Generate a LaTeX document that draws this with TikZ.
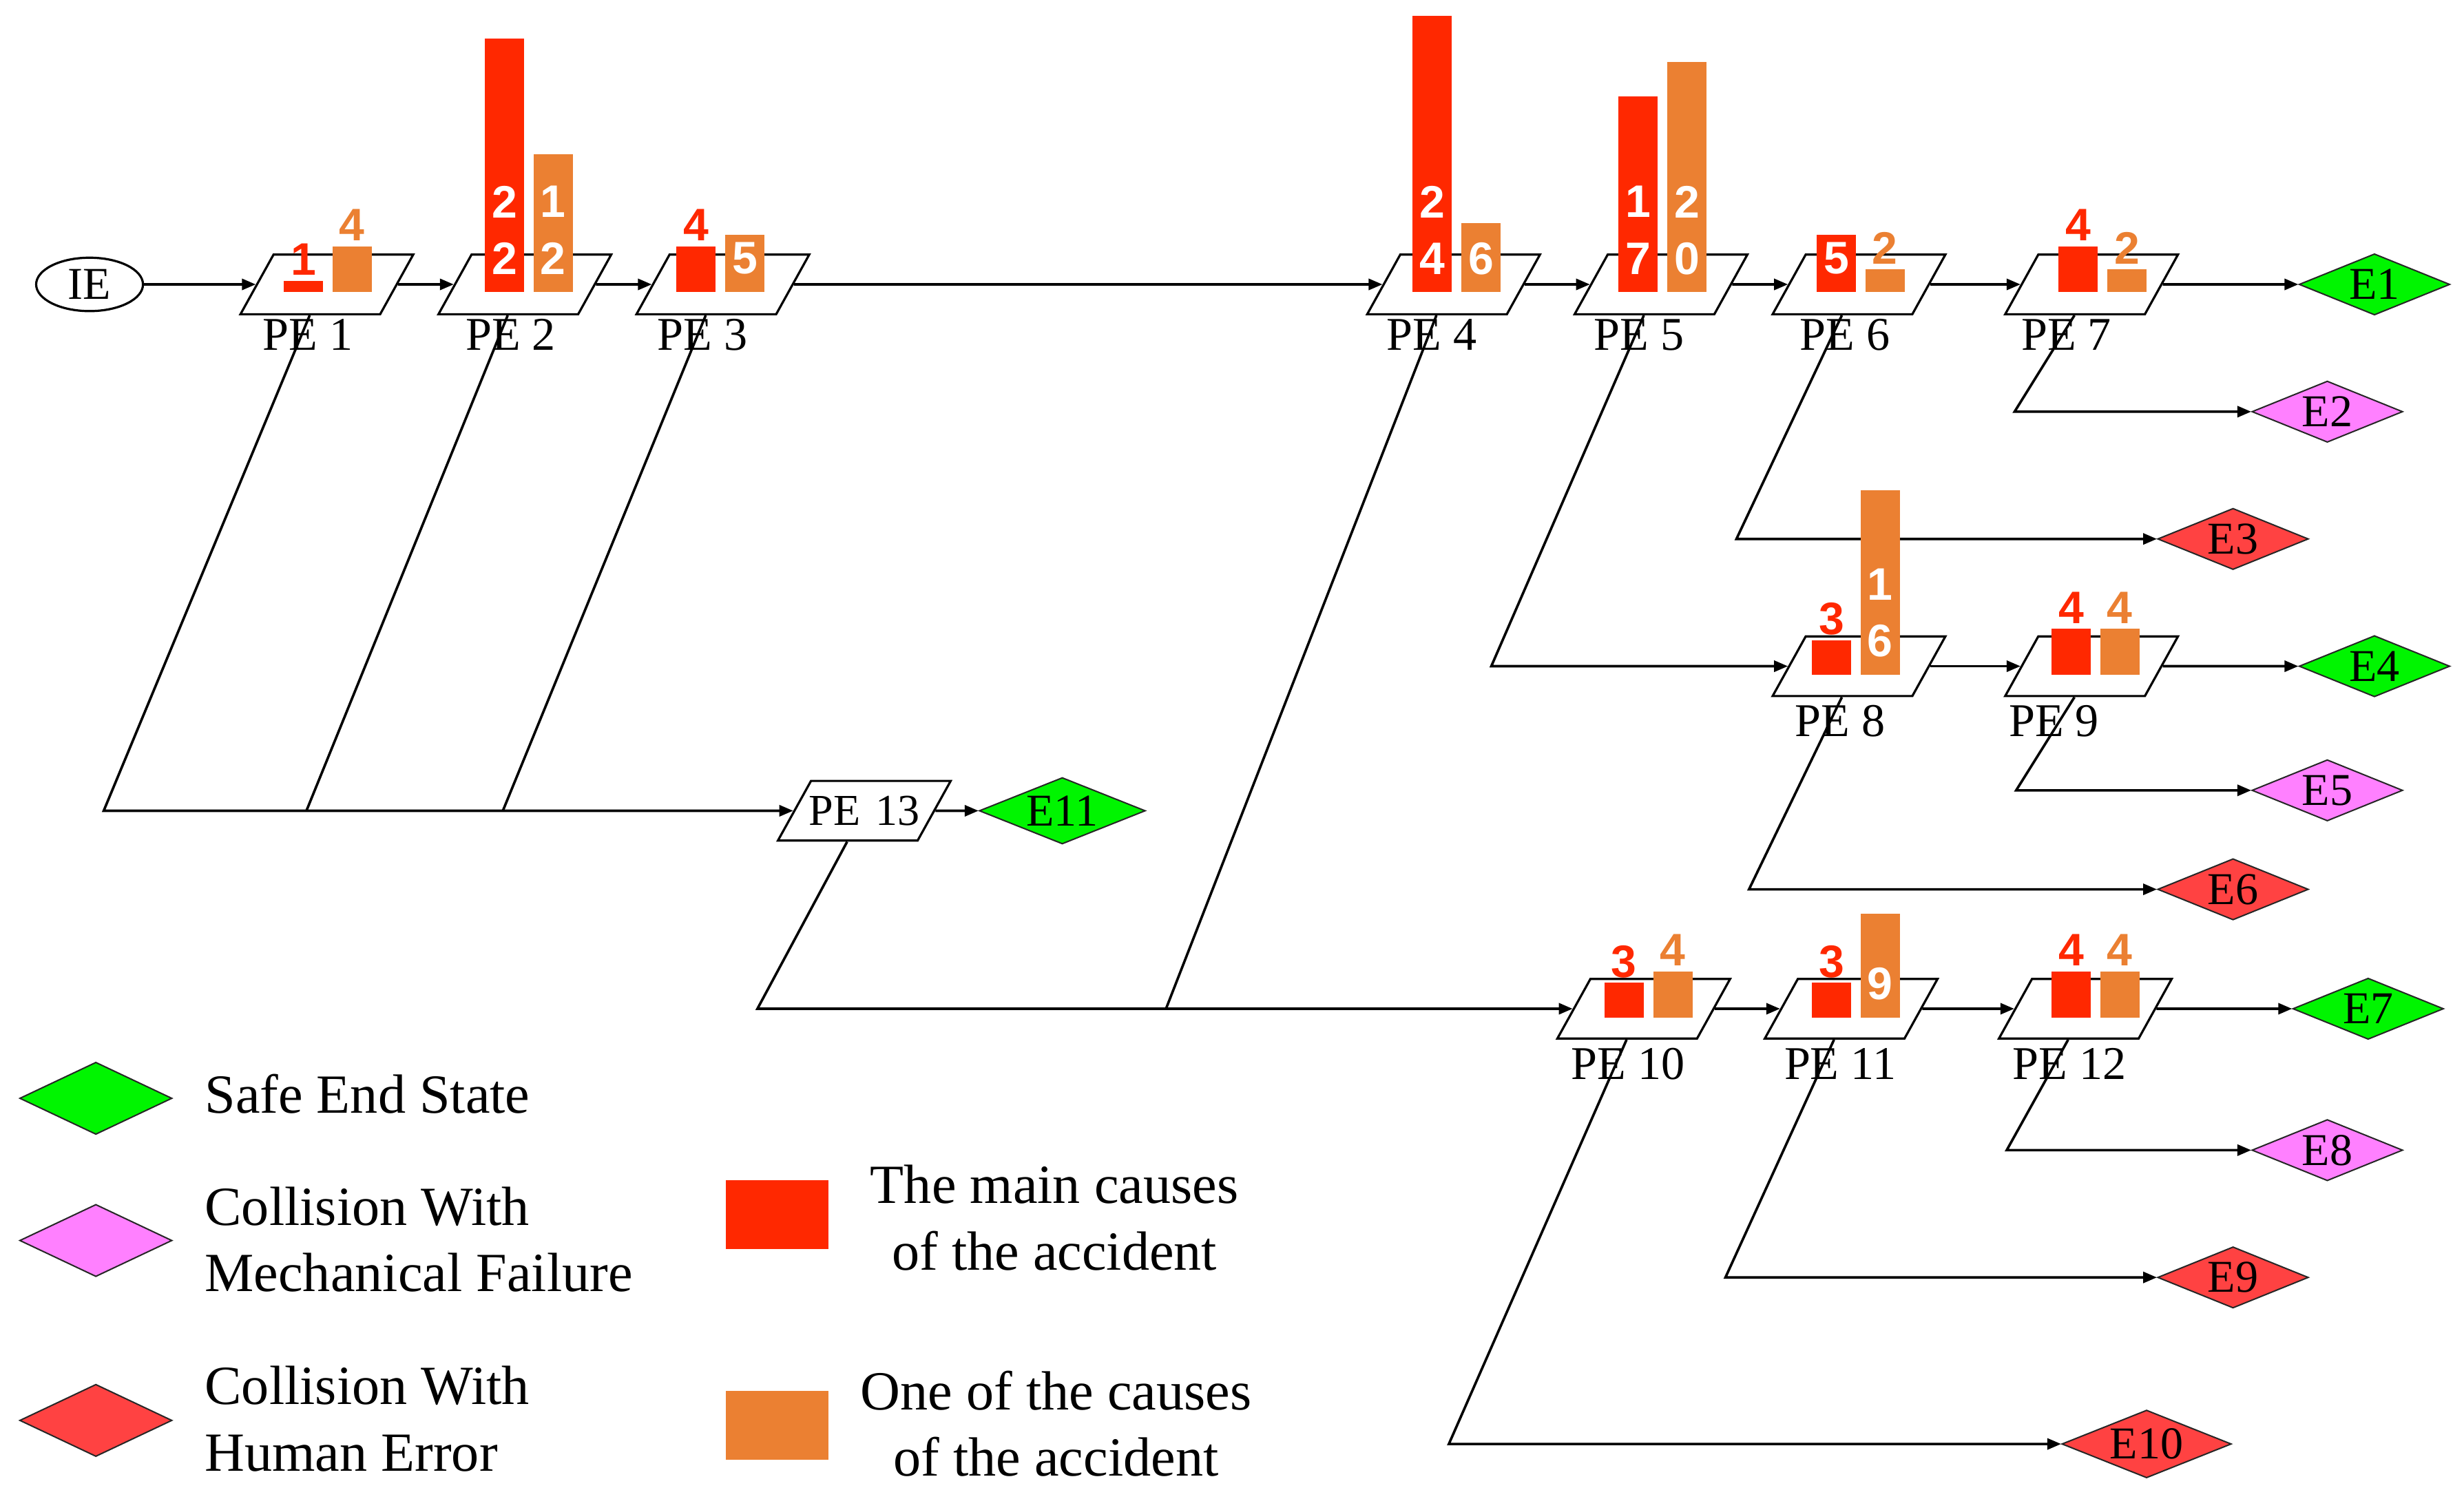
\documentclass[tikz,border=0pt]{standalone}
\usepackage{fontspec}
\setmainfont{Liberation Serif}
\newfontfamily\numfont{Liberation Sans}
\usetikzlibrary{shapes.geometric,arrows.meta}
\definecolor{barred}{RGB}{255,40,0}
\definecolor{barorange}{RGB}{235,128,50}
\definecolor{safegreen}{RGB}{0,245,0}
\definecolor{mechpink}{RGB}{255,128,255}
\definecolor{humred}{RGB}{255,66,66}
\newcommand\pebar[4]{\fill[#4] (#1,#2) rectangle ++(25,{-7.33*#3});}
\begin{document}
\begin{tikzpicture}[x=0.02cm,y=-0.02cm,
  pebox/.style={trapezium, trapezium left angle=61, trapezium right angle=119,
    draw, line width=0.8pt, inner sep=0pt, text width=1.357cm,
    text height=0.565cm, text depth=0.195cm, align=center,
    font=\fontsize{16}{16}\selectfont},
  pelabel/.style={inner sep=0pt, font=\fontsize{17}{17}\selectfont},
  ienode/.style={ellipse, draw, line width=0.8pt, minimum width=1.36cm,
    minimum height=0.68cm, inner sep=0pt, font=\fontsize{16.5}{16.5}\selectfont},
  endstate/.style={diamond, draw=black!85, line width=0.5pt, aspect=2.5,
    minimum width=1.92cm, minimum height=0.78cm, inner sep=1pt,
    font=\fontsize{16.5}{16.5}\selectfont},
  legdiamond/.style={diamond, draw=black!85, line width=0.5pt,
    minimum width=1.94cm, minimum height=0.92cm, inner sep=0pt},
  legtext/.style={inner sep=0pt, font=\fontsize{20}{24}\selectfont},
  legsquare/.style={inner sep=0pt, minimum width=1.3cm, minimum height=0.88cm},
  dig/.style={inner sep=0pt, font=\numfont\bfseries\fontsize{16.5}{16.5}\selectfont},
  conn/.style={line width=0.9pt},
  arr/.style={conn, -{Triangle[length=5pt,width=4pt]}}
]
\fill[white] (0,0) rectangle (1568,954);
\useasboundingbox (0,0) rectangle (1568,954);

% initiating event and pivotal events
\node[ienode] (ie) at (57,181) {IE};
\node[pebox] (pe1) at (208,181) {};
\node[pebox] (pe2) at (334,181) {};
\node[pebox] (pe3) at (460,181) {};
\node[pebox] (pe4) at (925,181) {};
\node[pebox] (pe5) at (1057,181) {};
\node[pebox] (pe6) at (1183,181) {};
\node[pebox] (pe7) at (1331,181) {};
\node[pebox] (pe8) at (1183,424) {};
\node[pebox] (pe9) at (1331,424) {};
\node[pebox] (pe10) at (1046,642) {};
\node[pebox] (pe11) at (1178,642) {};
\node[pebox] (pe12) at (1327,642) {};
\node[pebox] (pe13) at (550,516) {\makebox[1.357cm][c]{PE 13}};

% labels
\node[pelabel] (t1) at (196,213) {PE 1};
\node[pelabel] (t2) at (325,213) {PE 2};
\node[pelabel] (t3) at (447,213) {PE 3};
\node[pelabel] (t4) at (911,213) {PE 4};
\node[pelabel] (t5) at (1043,213) {PE 5};
\node[pelabel] (t6) at (1174,213) {PE 6};
\node[pelabel] (t7) at (1315,213) {PE 7};
\node[pelabel] (t8) at (1171,459) {PE 8};
\node[pelabel] (t9) at (1307,459) {PE 9};
\node[pelabel] (t10) at (1036,677) {PE 10};
\node[pelabel] (t11) at (1171,677) {PE 11};
\node[pelabel] (t12) at (1317,677) {PE 12};

% end states
\node[endstate, fill=safegreen] (e1) at (1511,181) {E1};
\node[endstate, fill=mechpink] (e2) at (1481,262) {E2};
\node[endstate, fill=humred] (e3) at (1421,343) {E3};
\node[endstate, fill=safegreen] (e4) at (1511,424) {E4};
\node[endstate, fill=mechpink] (e5) at (1481,503) {E5};
\node[endstate, fill=humred] (e6) at (1421,566) {E6};
\node[endstate, fill=safegreen] (e7) at (1507,642) {E7};
\node[endstate, fill=mechpink] (e8) at (1481,732) {E8};
\node[endstate, fill=humred] (e9) at (1421,813) {E9};
\node[endstate, fill=humred] (e10) at (1366,919) {E10};
\node[endstate, fill=safegreen] (e11) at (676,516) {E11};

% corner points
\coordinate (k1) at (66,516);
\coordinate (k2) at (195,516);
\coordinate (k3) at (320,516);
\coordinate (k13) at (482,642);
\coordinate (k4) at (742,642);
\coordinate (k5) at (949,424);
\coordinate (k6) at (1105,343);
\coordinate (k7) at (1282,262);
\coordinate (k8) at (1113,566);
\coordinate (k9) at (1283,503);
\coordinate (k10) at (922,919);
\coordinate (k11) at (1098,813);
\coordinate (k12) at (1277,732);

% success-path connectors
\draw[arr] (ie) -- (pe1);
\draw[arr] (pe1) -- (pe2);
\draw[arr] (pe2) -- (pe3);
\draw[arr] (pe3) -- (pe4);
\draw[arr] (pe4) -- (pe5);
\draw[arr] (pe5) -- (pe6);
\draw[arr] (pe6) -- (pe7);
\draw[arr] (pe7) -- (e1);
\draw[arr] (pe8) -- (pe9);
\draw[arr] (pe9) -- (e4);
\draw[arr] (pe10) -- (pe11);
\draw[arr] (pe11) -- (pe12);
\draw[arr] (pe12) -- (e7);
\draw[arr] (pe13) -- (e11);

% failure-path connectors
\draw[arr] (pe1.bottom side) -- (k1) -- (pe13);
\draw[conn] (pe2.bottom side) -- (k2);
\draw[conn] (pe3.bottom side) -- (k3);
\draw[arr] (pe13.bottom side) -- (k13) -- (pe10);
\draw[conn] (pe4.bottom side) -- (k4);
\draw[arr] (pe5.bottom side) -- (k5) -- (pe8);
\draw[arr] (pe6.bottom side) -- (k6) -- (e3);
\draw[arr] (pe7.bottom side) -- (k7) -- (e2);
\draw[arr] (pe8.bottom side) -- (k8) -- (e6);
\draw[arr] (pe9.bottom side) -- (k9) -- (e5);
\draw[arr] (pe10.bottom side) -- (k10) -- (e10);
\draw[arr] (pe11.bottom side) -- (k11) -- (e9);
\draw[arr] (pe12.bottom side) -- (k12) -- (e8);

% bars, row 1
\pebar{180.5}{186}{1}{barred}   \pebar{211.5}{186}{4}{barorange}
\node[dig, text=barred] (n1r) at (193,165.2) {1};
\node[dig, text=barorange] (n1o) at (224,143.2) {4};
\pebar{308.5}{186}{22}{barred}  \pebar{339.5}{186}{12}{barorange}
\node[dig, text=white] (n2ra) at (321,128.5) {2};
\node[dig, text=white] (n2rb) at (321,164.5) {2};
\node[dig, text=white] (n2oa) at (352,128.5) {1};
\node[dig, text=white] (n2ob) at (352,164.5) {2};
\pebar{430.5}{186}{4}{barred}   \pebar{461.5}{186}{5}{barorange}
\node[dig, text=barred] (n3r) at (443,143.2) {4};
\node[dig, text=white] (n3o) at (474,164.5) {5};
\pebar{899}{186}{24}{barred}    \pebar{930}{186}{6}{barorange}
\node[dig, text=white] (n4ra) at (911.5,128.5) {2};
\node[dig, text=white] (n4rb) at (911.5,164.5) {4};
\node[dig, text=white] (n4o) at (942.5,164.5) {6};
\pebar{1030}{186}{17}{barred}   \pebar{1061}{186}{20}{barorange}
\node[dig, text=white] (n5ra) at (1042.5,128.5) {1};
\node[dig, text=white] (n5rb) at (1042.5,164.5) {7};
\node[dig, text=white] (n5oa) at (1073.5,128.5) {2};
\node[dig, text=white] (n5ob) at (1073.5,164.5) {0};
\pebar{1156}{186}{5}{barred}    \pebar{1187}{186}{2}{barorange}
\node[dig, text=white] (n6r) at (1168.5,164.5) {5};
\node[dig, text=barorange] (n6o) at (1199.5,157.8) {2};
\pebar{1310}{186}{4}{barred}    \pebar{1341}{186}{2}{barorange}
\node[dig, text=barred] (n7r) at (1322.5,143.2) {4};
\node[dig, text=barorange] (n7o) at (1353.5,157.8) {2};

% bars, row 2
\pebar{1153}{429.5}{3}{barred}   \pebar{1184}{429.5}{16}{barorange}
\node[dig, text=barred] (n8r) at (1165.5,394) {3};
\node[dig, text=white] (n8oa) at (1196.5,372) {1};
\node[dig, text=white] (n8ob) at (1196.5,408) {6};
\pebar{1305.5}{429.5}{4}{barred} \pebar{1336.5}{429.5}{4}{barorange}
\node[dig, text=barred] (n9r) at (1318,386.7) {4};
\node[dig, text=barorange] (n9o) at (1349,386.7) {4};

% bars, row 3
\pebar{1021}{647.5}{3}{barred}   \pebar{1052}{647.5}{4}{barorange}
\node[dig, text=barred] (n10r) at (1033.5,612) {3};
\node[dig, text=barorange] (n10o) at (1064.5,604.7) {4};
\pebar{1153}{647.5}{3}{barred}   \pebar{1184}{647.5}{9}{barorange}
\node[dig, text=barred] (n11r) at (1165.5,612) {3};
\node[dig, text=white] (n11o) at (1196.5,626) {9};
\pebar{1305.5}{647.5}{4}{barred} \pebar{1336.5}{647.5}{4}{barorange}
\node[dig, text=barred] (n12r) at (1318,604.7) {4};
\node[dig, text=barorange] (n12o) at (1349,604.7) {4};

% legend
\node[legdiamond, fill=safegreen] (lg1) at (61,699) {};
\node[legdiamond, fill=mechpink] (lg2) at (61,789.5) {};
\node[legdiamond, fill=humred] (lg3) at (61,904) {};
\node[legtext, anchor=west] (lt1) at (130,696) {Safe End State};
\node[legtext, anchor=west, align=left] (lt2) at (130,789) {Collision With\\Mechanical Failure};
\node[legtext, anchor=west, align=left] (lt3) at (130,903) {Collision With\\Human Error};
\node[legsquare, fill=barred] (ls1) at (494.5,773) {};
\node[legsquare, fill=barorange] (ls2) at (494.5,907) {};
\node[legtext, align=center] (lt4) at (671,775) {The main causes\\of the accident};
\node[legtext, align=center] (lt5) at (672,906) {One of the causes\\of the accident};
\end{tikzpicture}
\end{document}
